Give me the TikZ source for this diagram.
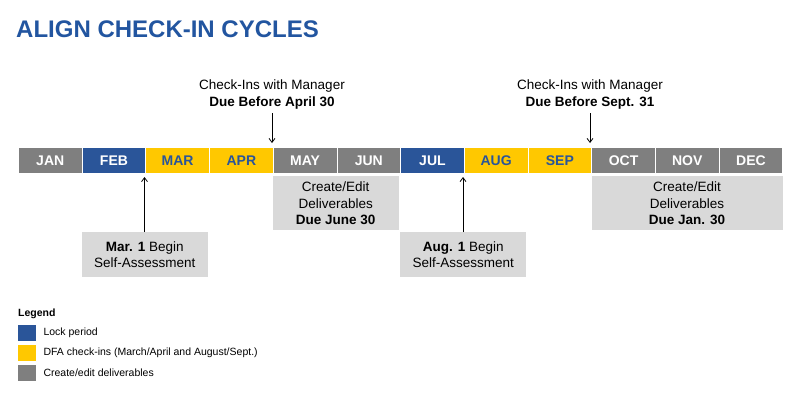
\documentclass[tikz,border=0pt]{standalone}
\usepackage{fontspec}
\setmainfont{Liberation Sans}
\begin{document}
\begin{tikzpicture}[x=1pt,y=-1pt,
 month/.style={draw=white,line width=0.8pt,minimum width=63.7pt,minimum height=26pt,inner sep=0pt,font=\bfseries\fontsize{14}{16}\selectfont,anchor=north west},
 gm/.style={month,fill=mgray,text=white},
 bm/.style={month,fill=mblue,text=white},
 ym/.style={month,fill=myellow,text=mblue},
 note/.style={fill=lgray,inner sep=0pt,anchor=north west,align=center,font=\fontsize{13.5}{16.5}\selectfont},
 arr/.style={-{Straight Barb[length=4pt,width=6pt]},line width=0.8pt},
 lsq/.style={minimum width=18pt,minimum height=16pt,inner sep=0pt,anchor=north west},
 ltxt/.style={anchor=west,font=\fontsize{10.5}{12}\selectfont}]
\usetikzlibrary{arrows.meta}
\definecolor{mblue}{HTML}{2A5599}
\definecolor{myellow}{HTML}{FFC800}
\definecolor{mgray}{HTML}{7F7F7F}
\definecolor{lgray}{HTML}{D9D9D9}
\definecolor{tblue}{HTML}{2255A0}
\useasboundingbox[fill=white] (0,0) rectangle (800,400);
\node[anchor=west,text=tblue,font=\bfseries\fontsize{24}{27}\selectfont,inner sep=0pt] (title) at (16,29) {ALIGN CHECK-IN CYCLES};
\node[gm] (jan) at (18,147) {JAN};
\node[bm] (feb) at (81.7,147) {FEB};
\node[ym] (mar) at (145.4,147) {MAR};
\node[ym] (apr) at (209.1,147) {APR};
\node[gm] (may) at (272.8,147) {MAY};
\node[gm] (jun) at (336.5,147) {JUN};
\node[bm] (jul) at (400.2,147) {JUL};
\node[ym] (aug) at (463.9,147) {AUG};
\node[ym] (sep) at (527.6,147) {SEP};
\node[gm] (oct) at (591.3,147) {OCT};
\node[gm] (nov) at (655,147) {NOV};
\node[gm] (dec) at (718.7,147) {DEC};
\node[note,minimum width=126pt,minimum height=54pt] (ce1) at (272.5,176) {Create/Edit\\Deliverables\\\textbf{Due June 30}};
\node[note,minimum width=191pt,minimum height=54pt] (ce2) at (591.3,176) {Create/Edit\\Deliverables\\\textbf{Due Jan. 30}};
\node[note,minimum width=126pt,minimum height=45pt] (m1) at (81.5,232) {\textbf{Mar. 1} Begin\\Self-Assessment};
\node[note,minimum width=126pt,minimum height=45pt] (a1) at (400,232) {\textbf{Aug. 1} Begin\\Self-Assessment};
\node[align=center,font=\fontsize{13.5}{17}\selectfont] (ck1) at (272,95) {Check-Ins with Manager\\\textbf{Due Before April 30}};
\node[align=center,font=\fontsize{13.5}{17}\selectfont] (ck2) at (590,95) {Check-Ins with Manager\\\textbf{Due Before Sept. 31}};
\coordinate (c1) at (272,113); \coordinate (c1e) at (272,143);
\coordinate (c2) at (590,113); \coordinate (c2e) at (590,143);
\coordinate (m1t) at (144.5,232); \coordinate (m1e) at (144.5,177);
\coordinate (a1t) at (463,232); \coordinate (a1e) at (463,177);
\draw[arr] (c1) -- (c1e);
\draw[arr] (c2) -- (c2e);
\draw[arr] (m1t) -- (m1e);
\draw[arr] (a1t) -- (a1e);
\node[anchor=west,font=\bfseries\fontsize{10.5}{12}\selectfont,inner sep=0pt] (lg) at (18,314) {Legend};
\node[lsq,fill=mblue] (l1) at (18,325) {};
\node[lsq,fill=myellow] (l2) at (18,345) {};
\node[lsq,fill=mgray] (l3) at (18,365) {};
\node[ltxt] at (40,333) {Lock period};
\node[ltxt] at (40,353) {DFA check-ins (March/April and August/Sept.)};
\node[ltxt] at (40,373) {Create/edit deliverables};
\end{tikzpicture}
\end{document}
